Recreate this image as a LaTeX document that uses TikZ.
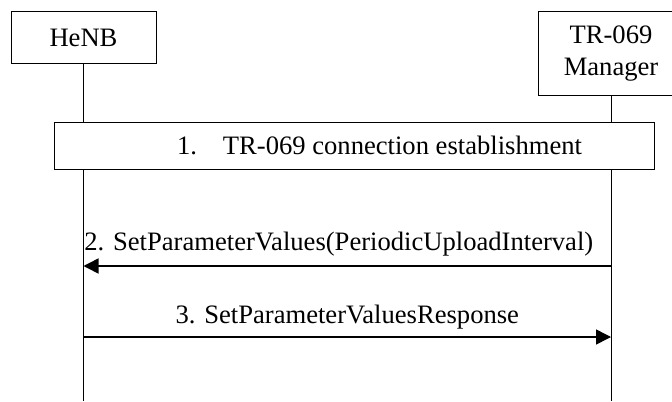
\documentclass[tikz,border=0pt]{standalone}
\usepackage{fontspec}
\setmainfont{Liberation Serif}
\usepackage{tikz}
\usetikzlibrary{shapes,arrows,arrows.meta,positioning}

\begin{document}
\begin{tikzpicture}[x=0.5pt,y=-0.5pt,>={Triangle[length=7.5pt,width=7.5pt]},
    font=\fontsize{13.3}{16}\selectfont]
\tikzstyle{entity}=[draw=black,fill=white,line width=0.5pt,align=center,inner sep=0pt]
\tikzstyle{lifeline}=[draw=black,line width=0.5pt]
\tikzstyle{msg}=[->,draw=black,line width=0.75pt]
\fill[white] (0,0) rectangle (672,401);
\clip (0,0) rectangle (672,401);
\node[entity,minimum width=72.5pt,minimum height=26pt] (henb) at (83.5,38) {HeNB};
\node[entity,minimum width=73pt,minimum height=41.5pt] (mgr) at (611,53.5) {TR-069\\Manager};
\coordinate (henbend) at (henb.south |- 0,401);
\coordinate (mgrend) at (mgr.south |- 0,401);
\draw[lifeline] (henb.south) -- (henbend);
\draw[lifeline] (mgr.south) -- (mgrend);
% step 1
\node[entity,minimum width=300pt,minimum height=23.5pt] (conn) at (354,145.5) {};
\node (connlbl) at (379.5,145.5) {1.\hspace{13pt}TR-069 connection establishment};
% steps 2 and 3
\coordinate (h2) at (henb |- 0,266);
\coordinate (m2) at (mgr |- 0,266);
\coordinate (h3) at (henb |- 0,337);
\coordinate (m3) at (mgr |- 0,337);
\path (m2) edge[msg] node[anchor=base,yshift=8pt,xshift=-4.25pt]{2. SetParameterValues(PeriodicUploadInterval)} (h2)
      (h3) edge[msg] node[anchor=base,yshift=7pt]{3. SetParameterValuesResponse} (m3);
\end{tikzpicture}
\end{document}
